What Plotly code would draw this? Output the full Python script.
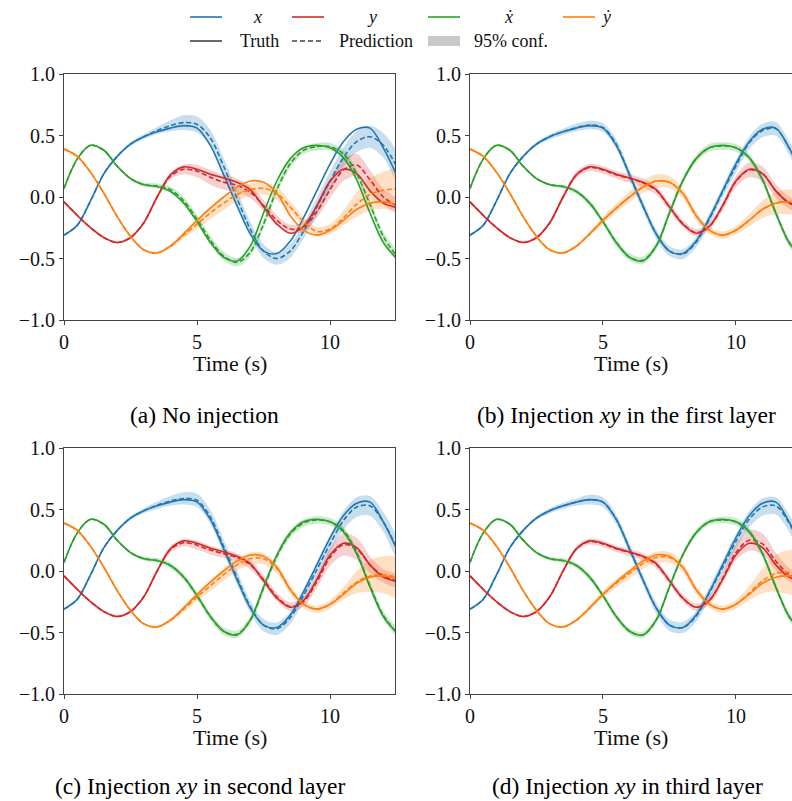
import plotly.graph_objects as go

# ---------------- data ----------------
T = [0.0, 0.5, 1.0, 1.5, 2.0, 2.5, 3.0, 3.5, 4.0, 4.5, 5.0, 5.5, 6.0,
     6.5, 7.0, 7.5, 8.0, 8.5, 9.0, 9.5, 10.0, 10.5, 11.0, 11.5, 12.0, 12.5]

# ground truth (same trajectory in all four panels)
x_true = [-0.31, -0.23, -0.03, 0.19, 0.33, 0.43, 0.49, 0.53, 0.56, 0.58, 0.56, 0.42, 0.18,
          -0.07, -0.30, -0.44, -0.46, -0.36, -0.17, 0.05, 0.27, 0.45, 0.55, 0.56, 0.40, 0.18]
y_true = [-0.04, -0.15, -0.25, -0.33, -0.37, -0.33, -0.21, 0.0, 0.18, 0.245, 0.225, 0.185, 0.155,
          0.12, 0.06, -0.08, -0.22, -0.295, -0.24, -0.07, 0.13, 0.225, 0.19, 0.05, -0.05, -0.085]
xd_true = [0.07, 0.31, 0.42, 0.38, 0.25, 0.15, 0.10, 0.085, 0.045, -0.05, -0.20, -0.37, -0.49,
           -0.52, -0.40, -0.13, 0.13, 0.31, 0.40, 0.42, 0.40, 0.32, 0.14, -0.13, -0.37, -0.50]
yd_true = [0.39, 0.33, 0.20, 0.03, -0.16, -0.32, -0.43, -0.455, -0.40, -0.30, -0.19, -0.09, 0.0,
           0.08, 0.13, 0.12, 0.03, -0.15, -0.27, -0.31, -0.27, -0.19, -0.10, -0.05, -0.04, -0.06]

# (a) No injection
x_pred_a = [-0.31, -0.23, -0.03, 0.19, 0.33, 0.43, 0.49, 0.54, 0.58, 0.605, 0.59, 0.48, 0.25,
            -0.01, -0.26, -0.44, -0.50, -0.44, -0.28, -0.08, 0.13, 0.32, 0.45, 0.49, 0.42, 0.25]
y_pred_a = [-0.04, -0.15, -0.25, -0.33, -0.37, -0.33, -0.21, 0.0, 0.17, 0.225, 0.21, 0.16, 0.12,
            0.095, 0.04, -0.07, -0.19, -0.26, -0.245, -0.12, 0.06, 0.22, 0.26, 0.14, 0.0, -0.07]
xd_pred_a = [0.07, 0.31, 0.42, 0.38, 0.25, 0.15, 0.10, 0.09, 0.06, -0.03, -0.18, -0.35, -0.48,
             -0.53, -0.45, -0.22, 0.06, 0.27, 0.38, 0.41, 0.41, 0.35, 0.19, -0.06, -0.32, -0.48]
yd_pred_a = [0.39, 0.33, 0.20, 0.03, -0.16, -0.32, -0.43, -0.455, -0.40, -0.31, -0.22, -0.13, -0.05,
             0.02, 0.06, 0.07, 0.03, -0.08, -0.20, -0.28, -0.26, -0.17, -0.06, 0.02, 0.055, 0.065]
x_band_a = [0.01, 0.01, 0.01, 0.01, 0.01, 0.015, 0.02, 0.03, 0.045, 0.06, 0.065, 0.065, 0.065,
            0.065, 0.06, 0.055, 0.05, 0.055, 0.06, 0.07, 0.075, 0.08, 0.085, 0.09, 0.10, 0.11]
y_band_a = [0.01, 0.01, 0.01, 0.01, 0.01, 0.01, 0.01, 0.015, 0.025, 0.04, 0.05, 0.06, 0.06,
            0.055, 0.05, 0.045, 0.04, 0.035, 0.04, 0.05, 0.07, 0.09, 0.09, 0.08, 0.065, 0.055]
xd_band_a = [0.01, 0.01, 0.01, 0.01, 0.01, 0.01, 0.015, 0.02, 0.025, 0.03, 0.035, 0.035, 0.035,
             0.035, 0.035, 0.035, 0.035, 0.035, 0.03, 0.03, 0.03, 0.035, 0.035, 0.035, 0.035, 0.035]
yd_band_a = [0.01, 0.01, 0.01, 0.01, 0.01, 0.01, 0.01, 0.01, 0.015, 0.025, 0.04, 0.05, 0.055,
             0.055, 0.05, 0.05, 0.05, 0.045, 0.04, 0.035, 0.04, 0.06, 0.10, 0.13, 0.15, 0.16]

# (b) Injection xy in the first layer
x_pred_b = [-0.31, -0.23, -0.03, 0.19, 0.33, 0.43, 0.49, 0.53, 0.565, 0.585, 0.565, 0.43, 0.18,
            -0.07, -0.30, -0.44, -0.465, -0.37, -0.18, 0.04, 0.25, 0.44, 0.54, 0.555, 0.40, 0.18]
y_pred_b = [-0.04, -0.15, -0.25, -0.33, -0.37, -0.33, -0.21, 0.0, 0.18, 0.24, 0.22, 0.18, 0.15,
            0.115, 0.055, -0.08, -0.215, -0.29, -0.24, -0.075, 0.125, 0.22, 0.19, 0.05, -0.045, -0.08]
xd_pred_b = [0.07, 0.31, 0.42, 0.38, 0.25, 0.15, 0.10, 0.085, 0.045, -0.05, -0.20, -0.37, -0.49,
             -0.515, -0.40, -0.13, 0.13, 0.31, 0.40, 0.415, 0.40, 0.32, 0.14, -0.13, -0.37, -0.50]
yd_pred_b = [0.39, 0.33, 0.20, 0.03, -0.16, -0.32, -0.43, -0.455, -0.40, -0.30, -0.19, -0.09, 0.0,
             0.08, 0.13, 0.12, 0.03, -0.15, -0.27, -0.31, -0.27, -0.19, -0.10, -0.05, -0.04, -0.06]
x_band_b = [0.01, 0.01, 0.01, 0.01, 0.01, 0.015, 0.02, 0.025, 0.03, 0.035, 0.035, 0.04, 0.04,
            0.04, 0.04, 0.04, 0.04, 0.04, 0.045, 0.045, 0.05, 0.05, 0.055, 0.055, 0.055, 0.055]
y_band_b = [0.01, 0.01, 0.01, 0.01, 0.01, 0.01, 0.015, 0.02, 0.025, 0.03, 0.03, 0.03, 0.035,
            0.035, 0.035, 0.035, 0.03, 0.03, 0.03, 0.035, 0.045, 0.06, 0.06, 0.055, 0.05, 0.05]
xd_band_b = [0.01, 0.01, 0.01, 0.01, 0.01, 0.01, 0.01, 0.015, 0.02, 0.025, 0.025, 0.03, 0.03,
             0.03, 0.03, 0.03, 0.03, 0.03, 0.03, 0.03, 0.03, 0.03, 0.03, 0.03, 0.03, 0.03]
yd_band_b = [0.01, 0.01, 0.01, 0.01, 0.01, 0.01, 0.01, 0.01, 0.015, 0.02, 0.03, 0.035, 0.04,
             0.05, 0.055, 0.05, 0.04, 0.035, 0.03, 0.03, 0.035, 0.05, 0.07, 0.09, 0.10, 0.10]

# (c) Injection xy in second layer
x_pred_c = [-0.31, -0.23, -0.03, 0.19, 0.33, 0.43, 0.49, 0.535, 0.57, 0.59, 0.575, 0.44, 0.20,
            -0.05, -0.29, -0.44, -0.47, -0.38, -0.20, 0.01, 0.22, 0.41, 0.52, 0.53, 0.40, 0.19]
y_pred_c = [-0.04, -0.15, -0.25, -0.33, -0.37, -0.33, -0.21, 0.0, 0.175, 0.23, 0.21, 0.17, 0.14,
            0.11, 0.05, -0.07, -0.21, -0.29, -0.25, -0.09, 0.11, 0.215, 0.18, 0.05, -0.04, -0.08]
xd_pred_c = [0.07, 0.31, 0.42, 0.38, 0.25, 0.15, 0.10, 0.085, 0.045, -0.05, -0.20, -0.37, -0.49,
             -0.515, -0.40, -0.14, 0.12, 0.30, 0.39, 0.415, 0.40, 0.33, 0.15, -0.12, -0.36, -0.50]
yd_pred_c = [0.39, 0.33, 0.20, 0.03, -0.16, -0.32, -0.43, -0.455, -0.40, -0.31, -0.21, -0.12, -0.03,
             0.05, 0.10, 0.10, 0.02, -0.15, -0.27, -0.31, -0.27, -0.18, -0.09, -0.04, -0.03, -0.05]
x_band_c = [0.01, 0.01, 0.01, 0.01, 0.01, 0.015, 0.02, 0.03, 0.04, 0.05, 0.055, 0.055, 0.055,
            0.055, 0.05, 0.05, 0.05, 0.05, 0.055, 0.06, 0.07, 0.075, 0.08, 0.08, 0.08, 0.08]
y_band_c = [0.01, 0.01, 0.01, 0.01, 0.01, 0.01, 0.01, 0.015, 0.025, 0.03, 0.035, 0.035, 0.035,
            0.035, 0.035, 0.035, 0.035, 0.035, 0.04, 0.05, 0.07, 0.09, 0.09, 0.07, 0.055, 0.05]
xd_band_c = [0.01, 0.01, 0.01, 0.01, 0.01, 0.01, 0.015, 0.02, 0.025, 0.025, 0.03, 0.03, 0.03,
             0.03, 0.03, 0.03, 0.03, 0.03, 0.03, 0.03, 0.03, 0.03, 0.03, 0.03, 0.03, 0.03]
yd_band_c = [0.01, 0.01, 0.01, 0.01, 0.01, 0.01, 0.01, 0.01, 0.015, 0.025, 0.035, 0.045, 0.05,
             0.05, 0.05, 0.045, 0.04, 0.035, 0.03, 0.03, 0.035, 0.05, 0.09, 0.13, 0.15, 0.16]

# (d) Injection xy in third layer
x_pred_d = [-0.31, -0.23, -0.03, 0.19, 0.33, 0.43, 0.49, 0.53, 0.56, 0.58, 0.56, 0.42, 0.18,
            -0.07, -0.30, -0.44, -0.46, -0.37, -0.18, 0.03, 0.24, 0.42, 0.52, 0.53, 0.39, 0.17]
y_pred_d = [-0.04, -0.15, -0.25, -0.33, -0.37, -0.33, -0.21, 0.0, 0.18, 0.24, 0.22, 0.18, 0.15,
            0.115, 0.055, -0.08, -0.22, -0.295, -0.24, -0.06, 0.15, 0.25, 0.22, 0.08, -0.03, -0.08]
xd_pred_d = [0.07, 0.31, 0.42, 0.38, 0.25, 0.15, 0.10, 0.085, 0.045, -0.05, -0.20, -0.37, -0.49,
             -0.52, -0.40, -0.13, 0.13, 0.31, 0.40, 0.415, 0.40, 0.32, 0.14, -0.13, -0.37, -0.50]
yd_pred_d = [0.39, 0.33, 0.20, 0.03, -0.16, -0.32, -0.43, -0.455, -0.40, -0.30, -0.19, -0.10, -0.02,
             0.06, 0.11, 0.11, 0.03, -0.15, -0.27, -0.31, -0.27, -0.18, -0.08, -0.02, -0.01, -0.02]
x_band_d = [0.01, 0.01, 0.01, 0.01, 0.01, 0.015, 0.02, 0.025, 0.03, 0.04, 0.04, 0.04, 0.04,
            0.04, 0.045, 0.045, 0.045, 0.045, 0.05, 0.055, 0.06, 0.065, 0.07, 0.07, 0.07, 0.07]
y_band_d = [0.01, 0.01, 0.01, 0.01, 0.01, 0.01, 0.01, 0.015, 0.02, 0.025, 0.025, 0.025, 0.03,
            0.03, 0.03, 0.03, 0.03, 0.03, 0.035, 0.045, 0.065, 0.085, 0.085, 0.07, 0.055, 0.05]
xd_band_d = [0.01, 0.01, 0.01, 0.01, 0.01, 0.01, 0.015, 0.02, 0.02, 0.025, 0.025, 0.025, 0.025,
             0.025, 0.025, 0.025, 0.025, 0.025, 0.025, 0.025, 0.03, 0.03, 0.03, 0.03, 0.03, 0.03]
yd_band_d = [0.01, 0.01, 0.01, 0.01, 0.01, 0.01, 0.01, 0.01, 0.015, 0.02, 0.03, 0.035, 0.04,
             0.045, 0.045, 0.045, 0.04, 0.035, 0.03, 0.03, 0.035, 0.06, 0.10, 0.15, 0.18, 0.19]

captions = ["(a) No injection",
            "(b) Injection <i>xy</i> in the first layer",
            "(c) Injection <i>xy</i> in second layer",
            "(d) Injection <i>xy</i> in third layer"]
x_ticks = [0, 5, 10]
y_ticks = [-1.0, -0.5, 0.0, 0.5, 1.0]
legend_vars = ["x", "y", "ẋ", "ẏ"]
legend_styles = ["Truth", "Prediction", "95% conf."]

# ---------------- styling ----------------
W, H = 792, 801
FONT = "Liberation Serif"
COLORS = ["#1f77b4", "#d62728", "#2ca02c", "#ff7f0e"]
BANDS = ["rgba(31,119,180,0.24)", "rgba(214,39,40,0.22)",
         "rgba(44,160,44,0.24)", "rgba(255,127,14,0.24)"]
AX_COLOR = "#444444"


def px(x):
    """page pixel x -> paper fraction"""
    return x / W


def py(y):
    """page pixel y -> paper fraction"""
    return 1 - y / H


truths = [x_true, y_true, xd_true, yd_true]
panels = [
    ([x_pred_a, y_pred_a, xd_pred_a, yd_pred_a], [x_band_a, y_band_a, xd_band_a, yd_band_a]),
    ([x_pred_b, y_pred_b, xd_pred_b, yd_pred_b], [x_band_b, y_band_b, xd_band_b, yd_band_b]),
    ([x_pred_c, y_pred_c, xd_pred_c, yd_pred_c], [x_band_c, y_band_c, xd_band_c, yd_band_c]),
    ([x_pred_d, y_pred_d, xd_pred_d, yd_pred_d], [x_band_d, y_band_d, xd_band_d, yd_band_d]),
]

# panel geometry in pixels: (left, right, top, bottom), visible time span
geom = [(64, 395, 74, 320, 12.44), (470, 792, 74, 320, 12.11),
        (64, 395, 448, 694, 12.44), (470, 792, 448, 694, 12.11)]

fig = go.Figure()
layout = dict(width=W, height=H,
              margin=dict(l=0, r=0, t=0, b=0, pad=0, autoexpand=False),
              paper_bgcolor="white", plot_bgcolor="white", showlegend=False,
              hovermode=False)

for i, (preds, bands) in enumerate(panels):
    xa = "x" if i == 0 else f"x{i+1}"
    ya = "y" if i == 0 else f"y{i+1}"
    # confidence bands
    for k in range(4):
        upper = [p + b for p, b in zip(preds[k], bands[k])]
        lower = [p - b for p, b in zip(preds[k], bands[k])]
        fig.add_trace(go.Scatter(
            x=T + T[::-1], y=upper + lower[::-1], fill="toself",
            fillcolor=BANDS[k], line=dict(width=0, shape="spline", smoothing=0.9),
            mode="lines", hoverinfo="skip", xaxis=xa, yaxis=ya))
    # truth and prediction lines
    for k in range(4):
        fig.add_trace(go.Scatter(
            x=T, y=truths[k], mode="lines",
            line=dict(color=COLORS[k], width=1.6, shape="spline", smoothing=0.9),
            xaxis=xa, yaxis=ya))
        fig.add_trace(go.Scatter(
            x=T, y=preds[k], mode="lines",
            line=dict(color=COLORS[k], width=1.6, dash="5px,2.6px",
                      shape="spline", smoothing=0.9),
            xaxis=xa, yaxis=ya))

    l, r, t, b, tmax = geom[i]
    xkey = "xaxis" if i == 0 else f"xaxis{i+1}"
    ykey = "yaxis" if i == 0 else f"yaxis{i+1}"
    layout[xkey] = dict(
        domain=[px(l), min(px(r), 1.0)], range=[0, tmax], anchor=ya, automargin=False,
        tickvals=x_ticks, ticktext=[str(v) for v in x_ticks],
        showgrid=False, zeroline=False, showline=True, linecolor=AX_COLOR,
        linewidth=1, mirror=True, ticks="outside", ticklen=4, tickwidth=1,
        tickcolor=AX_COLOR, tickfont=dict(family=FONT, size=20, color="#111"))
    layout[ykey] = dict(
        domain=[py(b), py(t)], range=[-1, 1], anchor=xa, automargin=False,
        tickvals=y_ticks, ticktext=[f"{v:.1f}".replace("-", "\u2212") for v in y_ticks],
        showgrid=False, zeroline=False, showline=True, linecolor=AX_COLOR,
        linewidth=1, mirror=(i in (0, 2)), ticks="outside", ticklen=4, tickwidth=1,
        tickcolor=AX_COLOR, tickfont=dict(family=FONT, size=20, color="#111"))

annotations = []
shapes = []
# axis titles and captions
title_pos = [(229.5, 363), (631, 363), (229.5, 737), (631, 737)]
cap_pos = [(204, 415), (626, 415), (200, 786), (627, 786)]
for i in range(4):
    annotations.append(dict(text="Time (s)", x=px(title_pos[i][0]), y=py(title_pos[i][1]),
                            xref="paper", yref="paper", showarrow=False,
                            xanchor="center", yanchor="middle",
                            font=dict(family=FONT, size=22, color="#111")))
    annotations.append(dict(text=captions[i], x=px(cap_pos[i][0]), y=py(cap_pos[i][1]),
                            xref="paper", yref="paper", showarrow=False,
                            xanchor="center", yanchor="middle",
                            font=dict(family=FONT, size=23.5, color="#000")))

# hand-drawn legend (matplotlib style, 4 columns)
row1, row2 = 17, 41
handle_x = [(190, 222), (292, 324), (428, 460), (563, 595)]
var_label_x = [257, 372, 509, 606]
for k in range(4):
    x0, x1 = handle_x[k]
    shapes.append(dict(type="line", xref="paper", yref="paper",
                       x0=px(x0), x1=px(x1), y0=py(row1), y1=py(row1),
                       line=dict(color=COLORS[k], width=1.6)))
    annotations.append(dict(text=f"<i>{legend_vars[k]}</i>", x=px(var_label_x[k]), y=py(row1),
                            xref="paper", yref="paper", showarrow=False,
                            xanchor="center", yanchor="middle",
                            font=dict(family=FONT, size=18, color="#111")))
# Truth / Prediction / 95% conf. handles
shapes.append(dict(type="line", xref="paper", yref="paper",
                   x0=px(190), x1=px(222), y0=py(row2), y1=py(row2),
                   line=dict(color="#444", width=1.6)))
shapes.append(dict(type="line", xref="paper", yref="paper",
                   x0=px(292), x1=px(324), y0=py(row2), y1=py(row2),
                   line=dict(color="#444", width=1.6, dash="5px,3px")))
shapes.append(dict(type="rect", xref="paper", yref="paper",
                   x0=px(428), x1=px(460), y0=py(row2 + 5), y1=py(row2 - 5),
                   fillcolor="#c9c9c9", line=dict(width=0)))
for text, xl in zip(legend_styles, [238, 337, 472]):
    annotations.append(dict(text=text, x=px(xl), y=py(row2),
                            xref="paper", yref="paper", showarrow=False,
                            xanchor="left", yanchor="middle",
                            font=dict(family=FONT, size=18, color="#111")))

layout["annotations"] = annotations
layout["shapes"] = shapes
fig.update_layout(**layout)
# remove the page's default body margin so that the figure sits at the window's corner
fig.write_html("out.html",
               config={"displayModeBar": False, "staticPlot": True},
               post_script="document.body.style.margin='0px';"
                           "document.body.style.overflow='hidden';")
